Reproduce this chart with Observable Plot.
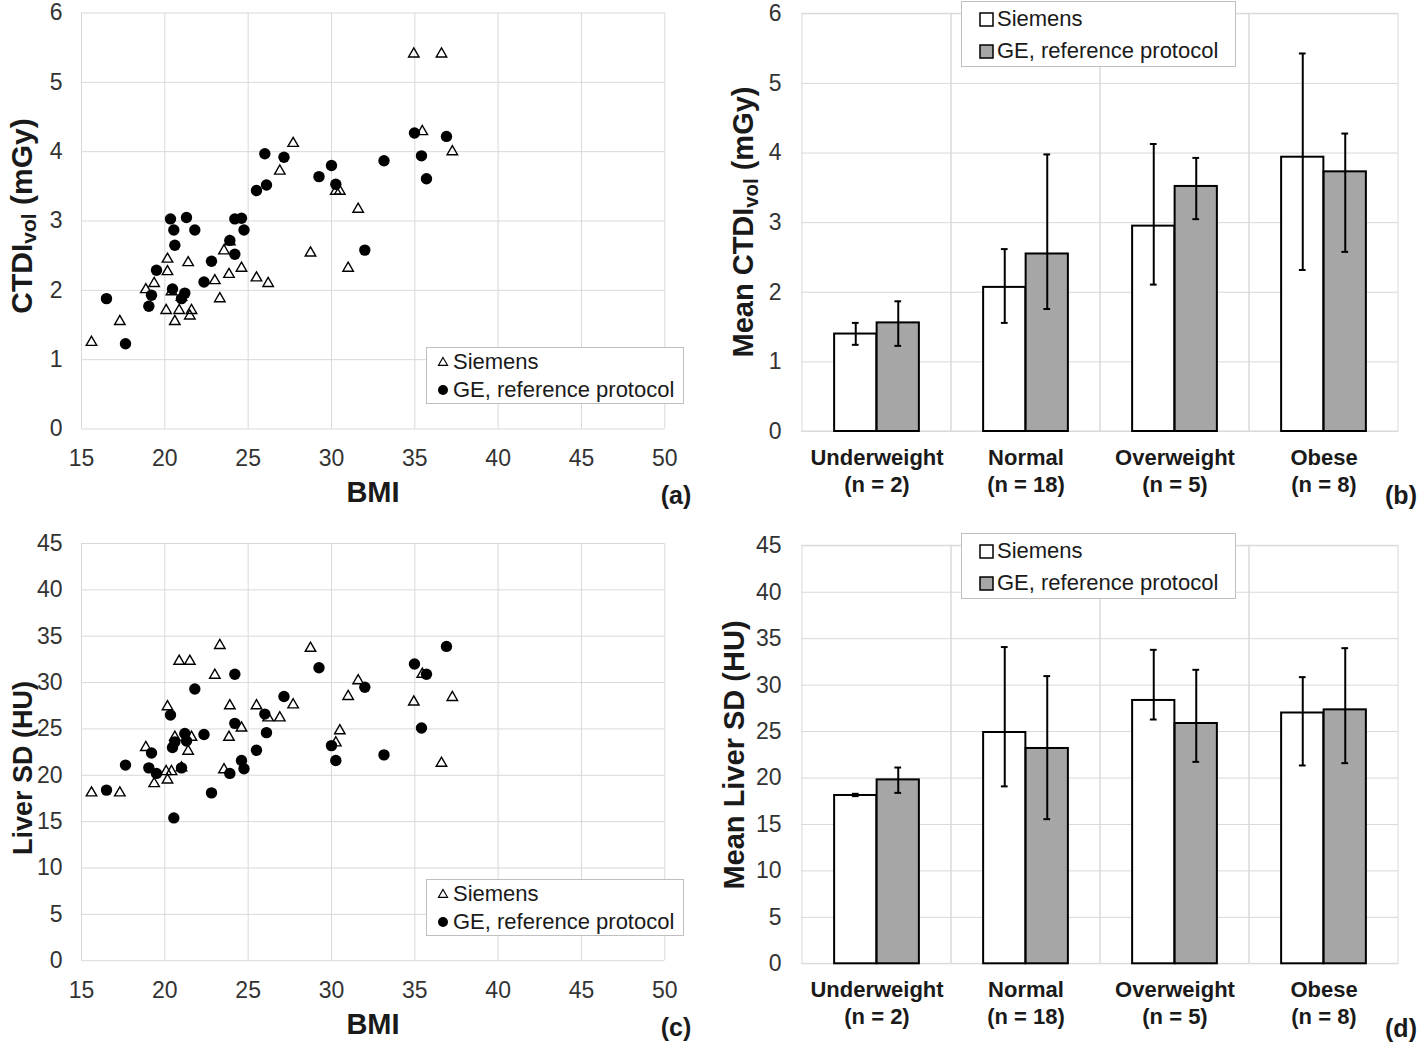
<!DOCTYPE html>
<html>
<head>
<meta charset="utf-8">
<script src="https://cdn.jsdelivr.net/npm/d3@7"></script>
<script src="https://cdn.jsdelivr.net/npm/@observablehq/plot@0.6"></script>
<style>
  body { margin: 0; background: #fff; }
  #root { position: relative; width: 1418px; height: 1044px; overflow: hidden; background: #fff;
          font-family: "Liberation Sans", Arial, sans-serif; color: #1a1a1a; }
  .panel { position: absolute; }
  .ttl { position: absolute; font-weight: bold; white-space: nowrap; transform: translate(-50%, -50%); line-height: 1; }
  .rot { transform: translate(-50%, -50%) rotate(-90deg); }
  .ttl sub { font-size: 0.7em; vertical-align: -0.22em; }
  .legend { position: absolute; border: 1px solid #bfbfbf; background: #fff; box-sizing: border-box; }
  .row { position: absolute; left: 0; white-space: nowrap; font-size: 22px; line-height: 1; transform: translateY(-50%); display: flex; align-items: center; color: #1a1a1a; }
  .row svg { display: block; }
</style>
</head>
<body>
<div id="root"></div>
<script>
// ---------------- DATA ----------------
const seriesNames = ["Siemens", "GE, reference protocol"];

// Scatter: Siemens
const siemensBMI  = [15.6, 17.3, 18.86, 19.36, 20.08, 20.16, 20.16, 20.4, 20.6, 20.86, 21.0, 21.4, 21.5, 21.6, 23.0, 23.3, 23.55, 23.85, 23.9, 24.6, 25.5, 26.2, 26.9, 27.7, 28.74, 30.26, 30.5, 31.0, 31.6, 34.94, 35.45, 36.6, 37.25];
const siemensCTDI = [1.25, 1.55, 2.01, 2.10, 1.71, 2.45, 2.27, 1.98, 1.55, 1.71, 1.90, 2.40, 1.63, 1.71, 2.14, 1.88, 2.57, 2.23, 2.70, 2.32, 2.18, 2.10, 3.72, 4.12, 2.54, 3.43, 3.43, 2.32, 3.17, 5.41, 4.29, 5.41, 4.00];
const siemensSD   = [18.1, 18.1, 23.0, 19.1, 20.4, 27.4, 19.5, 20.4, 24.1, 32.3, 20.8, 22.6, 32.3, 24.1, 30.8, 34.0, 20.6, 24.1, 27.5, 25.1, 27.5, 26.2, 26.2, 27.6, 33.7, 23.5, 24.8, 28.5, 30.2, 27.9, 30.9, 21.3, 28.4];

// Scatter: GE, reference protocol
const geBMI  = [16.5, 17.64, 19.04, 19.2, 19.5, 20.34, 20.46, 20.54, 20.6, 21.0, 21.2, 21.3, 21.8, 22.35, 22.8, 23.9, 24.2, 24.2, 24.6, 24.75, 25.5, 26.0, 26.1, 27.15, 29.25, 30.0, 30.26, 32.0, 33.15, 34.98, 35.4, 35.7, 36.9];
const geCTDI = [1.88, 1.23, 1.77, 1.93, 2.29, 3.03, 2.02, 2.87, 2.65, 1.88, 1.96, 3.05, 2.87, 2.12, 2.42, 2.72, 3.03, 2.52, 3.04, 2.87, 3.44, 3.97, 3.52, 3.92, 3.64, 3.80, 3.53, 2.58, 3.87, 4.27, 3.94, 3.61, 4.22];
const geSD   = [18.4, 21.1, 20.8, 22.4, 20.2, 26.5, 23.0, 15.4, 23.6, 20.8, 24.5, 23.7, 29.3, 24.4, 18.1, 20.2, 30.9, 25.6, 21.6, 20.7, 22.7, 26.6, 24.6, 28.5, 31.6, 23.2, 21.6, 29.5, 22.2, 32.0, 25.1, 30.9, 33.9];

// Bars
const categories = ["Underweight", "Normal", "Overweight", "Obese"];
const categoryN  = ["(n = 2)", "(n = 18)", "(n = 5)", "(n = 8)"];

const siemensCTDIMean = [1.40, 2.07, 2.95, 3.94];
const siemensCTDILow  = [1.245, 1.56, 2.11, 2.32];
const siemensCTDIHigh = [1.56, 2.62, 4.13, 5.43];
const geCTDIMean = [1.56, 2.55, 3.52, 3.73];
const geCTDILow  = [1.23, 1.76, 3.05, 2.58];
const geCTDIHigh = [1.87, 3.98, 3.93, 4.28];

const siemensSDMean = [18.12, 24.9, 28.35, 27.0];
const siemensSDLow  = [18.05, 19.1, 26.3, 21.35];
const siemensSDHigh = [18.3, 34.1, 33.8, 30.86];
const geSDMean = [19.8, 23.18, 25.87, 27.34];
const geSDLow  = [18.4, 15.57, 21.74, 21.6];
const geSDHigh = [21.13, 30.97, 31.65, 33.98];

// Tick labels
const bmiTicks  = [15, 20, 25, 30, 35, 40, 45, 50];
const ctdiTicks = [0, 1, 2, 3, 4, 5, 6];
const sdTicks   = [0, 5, 10, 15, 20, 25, 30, 35, 40, 45];

// ---------------- DRAWING ----------------
const root = document.getElementById("root");
const FONT = '"Liberation Sans", Arial, sans-serif';
const GRID = "#d9d9d9";
const TICKCOLOR = "#333";
const fmt = (d) => String(d);

function place(el, left, top) {
  el.classList.add("panel");
  el.style.left = left + "px";
  el.style.top = top + "px";
  root.appendChild(el);
}

function scatter({ySiem, yGE, yTicks, height, marginTop, marginBottom}) {
  const sData = siemensBMI.map((b, i) => ({bmi: b, v: ySiem[i]}));
  const gData = geBMI.map((b, i) => ({bmi: b, v: yGE[i]}));
  return Plot.plot({
    width: 700, height,
    marginLeft: 81, marginRight: 35.7, marginTop, marginBottom,
    x: {domain: [bmiTicks[0], bmiTicks[bmiTicks.length - 1]]},
    y: {domain: [yTicks[0], yTicks[yTicks.length - 1]]},
    style: {fontFamily: FONT, fontSize: "23px", color: TICKCOLOR, background: "transparent", overflow: "visible"},
    marks: [
      Plot.gridX(bmiTicks, {stroke: GRID, strokeOpacity: 1}),
      Plot.gridY(yTicks, {stroke: GRID, strokeOpacity: 1}),
      Plot.axisX(bmiTicks, {tickSize: 0, tickPadding: 21, label: null, fill: TICKCOLOR, tickFormat: fmt}),
      Plot.axisY(yTicks, {tickSize: 0, tickPadding: 19, label: null, fill: TICKCOLOR, tickFormat: fmt}),
      Plot.dot(sData, {x: "bmi", y: "v", symbol: "triangle", r: 3.9, stroke: "#000", strokeWidth: 1.4, fill: "none"}),
      Plot.dot(gData, {x: "bmi", y: "v", r: 5.7, fill: "#000", stroke: "none"})
    ]
  });
}

function bars({sMean, sLow, sHigh, gMean, gLow, gHigh, yTicks, height, marginTop, marginBottom}) {
  const data = categories.map((c, i) => ({
    cat: c, s: sMean[i], sLo: sLow[i], sHi: sHigh[i], g: gMean[i], gLo: gLow[i], gHi: gHigh[i]
  }));
  const mL = 101, mR = 20, W = 718;
  const bw = (W - mL - mR) / categories.length;
  const half = bw / 2;
  const barW = 42.5;
  const cap = 3.5;
  const y0 = yTicks[0], y1 = yTicks[yTicks.length - 1];
  return Plot.plot({
    width: W, height,
    marginLeft: mL, marginRight: mR, marginTop, marginBottom,
    x: {domain: categories, padding: 0},
    y: {domain: [y0, y1]},
    style: {fontFamily: FONT, fontSize: "23px", color: TICKCOLOR, background: "transparent", overflow: "visible"},
    marks: [
      Plot.gridY(yTicks, {stroke: GRID, strokeOpacity: 1}),
      Plot.barY(data, {x: "cat", y1: y0, y2: y1, fill: "none", stroke: GRID, strokeWidth: 1}),
      Plot.barY(data, {x: "cat", y: "s", insetLeft: half - barW, insetRight: half, fill: "#fff", stroke: "#000", strokeWidth: 2}),
      Plot.barY(data, {x: "cat", y: "g", insetLeft: half, insetRight: half - barW, fill: "#a6a6a6", stroke: "#000", strokeWidth: 2}),
      Plot.ruleX(data, {x: "cat", y1: "sLo", y2: "sHi", dx: -barW / 2, stroke: "#000", strokeWidth: 2}),
      Plot.ruleX(data, {x: "cat", y1: "gLo", y2: "gHi", dx: barW / 2, stroke: "#000", strokeWidth: 2}),
      Plot.tickY(data, {x: "cat", y: "sHi", insetLeft: half - barW / 2 - cap, insetRight: half + barW / 2 - cap, stroke: "#000", strokeWidth: 2}),
      Plot.tickY(data, {x: "cat", y: "sLo", insetLeft: half - barW / 2 - cap, insetRight: half + barW / 2 - cap, stroke: "#000", strokeWidth: 2}),
      Plot.tickY(data, {x: "cat", y: "gHi", insetLeft: half + barW / 2 - cap, insetRight: half - barW / 2 - cap, stroke: "#000", strokeWidth: 2}),
      Plot.tickY(data, {x: "cat", y: "gLo", insetLeft: half + barW / 2 - cap, insetRight: half - barW / 2 - cap, stroke: "#000", strokeWidth: 2}),
      Plot.axisY(yTicks, {tickSize: 0, tickPadding: 20, label: null, fill: TICKCOLOR, tickFormat: fmt}),
      Plot.axisX(categories, {tickSize: 0, tickPadding: 18, label: null, fontWeight: "bold", fontSize: 22, fill: "#1a1a1a"}),
      Plot.axisX(categories, {tickSize: 0, tickPadding: 45, label: null, fontWeight: "bold", fontSize: 22, fill: "#1a1a1a",
        tickFormat: (d) => categoryN[categories.indexOf(d)]})
    ]
  });
}

// Panel (a)
place(scatter({ySiem: siemensCTDI, yGE: geCTDI, yTicks: ctdiTicks, height: 520, marginTop: 12.5, marginBottom: 91.5}), 0, 0);
// Panel (c)
place(scatter({ySiem: siemensSD, yGE: geSD, yTicks: sdTicks, height: 524, marginTop: 23, marginBottom: 83.8}), 0, 520);
// Panel (b)
place(bars({sMean: siemensCTDIMean, sLow: siemensCTDILow, sHigh: siemensCTDIHigh,
            gMean: geCTDIMean, gLow: geCTDILow, gHigh: geCTDIHigh,
            yTicks: ctdiTicks, height: 520, marginTop: 13.3, marginBottom: 89}), 700, 0);
// Panel (d)
place(bars({sMean: siemensSDMean, sLow: siemensSDLow, sHigh: siemensSDHigh,
            gMean: geSDMean, gLow: geSDLow, gHigh: geSDHigh,
            yTicks: sdTicks, height: 524, marginTop: 25.3, marginBottom: 80.7}), 700, 520);

// Titles & labels
function title(html, cx, cy, size, rotate) {
  const d = document.createElement("div");
  d.className = "ttl" + (rotate ? " rot" : "");
  d.innerHTML = html;
  d.style.left = cx + "px";
  d.style.top = cy + "px";
  d.style.fontSize = size + "px";
  root.appendChild(d);
}
title("BMI", 373, 492, 29);
title("BMI", 373, 1024, 29);
title("(a)", 676, 495, 25);
title("(b)", 1401, 495, 25);
title("(c)", 676, 1027, 25);
title("(d)", 1401, 1028, 25);
title("CTDI<sub>vol</sub> (mGy)", 23, 216, 30, true);
title("Liver SD (HU)", 23, 768, 27, true);
title("Mean CTDI<sub>vol</sub> (mGy)", 745, 222, 29, true);
title("Mean Liver SD (HU)", 734, 755, 29, true);

// Legends
function scatterLegend(left, top) {
  const box = document.createElement("div");
  box.className = "legend";
  Object.assign(box.style, {left: left + "px", top: top + "px", width: "258px", height: "57px"});
  const syms = [
    '<svg width="14" height="14" viewBox="-7 -7 14 14"><path d="M0,-4.6L4.6,3.4L-4.6,3.4Z" fill="none" stroke="#000" stroke-width="1.1"/></svg>',
    '<svg width="14" height="14" viewBox="-7 -7 14 14"><circle r="5" fill="#000"/></svg>'
  ];
  seriesNames.forEach((name, i) => {
    const r = document.createElement("div");
    r.className = "row";
    r.style.top = (i === 0 ? 13.5 : 42) + "px";
    r.style.left = "9px";
    r.innerHTML = syms[i] + '<span style="margin-left:3px">' + name + '</span>';
    box.appendChild(r);
  });
  root.appendChild(box);
}
function barLegend(left, top) {
  const box = document.createElement("div");
  box.className = "legend";
  Object.assign(box.style, {left: left + "px", top: top + "px", width: "275px", height: "66px"});
  const fills = ["#fff", "#a6a6a6"];
  seriesNames.forEach((name, i) => {
    const r = document.createElement("div");
    r.className = "row";
    r.style.top = (i === 0 ? 17 : 49) + "px";
    r.style.left = "17px";
    r.innerHTML = '<svg width="15" height="15"><rect x="1" y="1" width="13" height="13" fill="' + fills[i] + '" stroke="#000" stroke-width="1.5"/></svg>' +
                  '<span style="margin-left:3px">' + name + '</span>';
    box.appendChild(r);
  });
  root.appendChild(box);
}
scatterLegend(426, 347);
scatterLegend(426, 879);
barLegend(961, 1);
barLegend(961, 533);
</script>
</body>
</html>
